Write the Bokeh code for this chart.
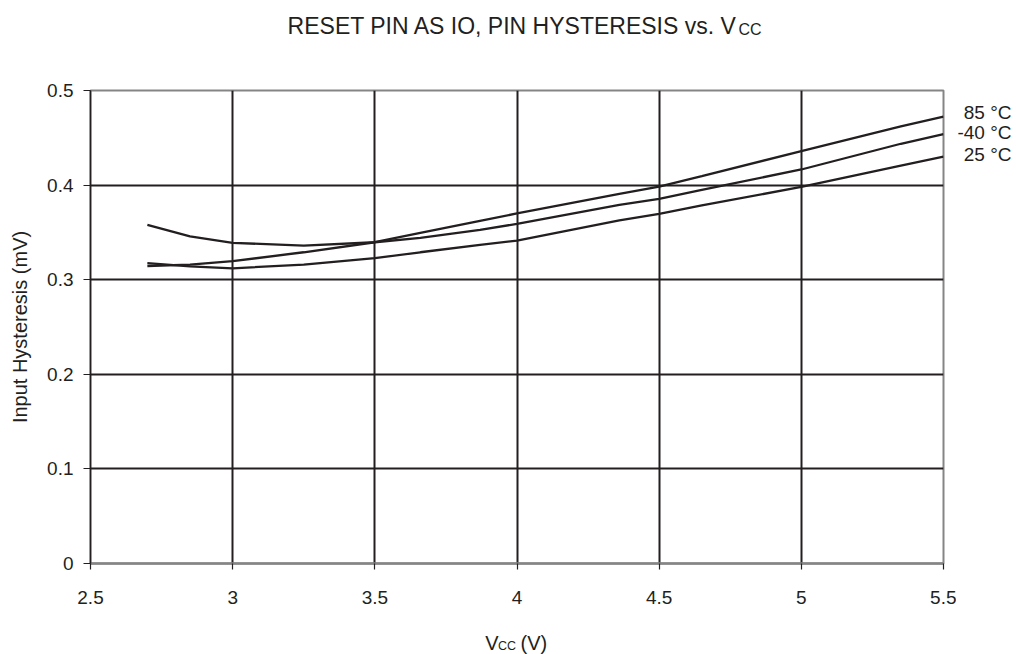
from bokeh.plotting import figure
from bokeh.models import Range1d, FixedTicker, Label, Grid
from bokeh.layouts import column, row
from bokeh.embed import file_html
from bokeh.resources import INLINE

# ---- data ----
vcc = [2.7, 2.85, 3.0, 3.25, 3.5, 3.66, 3.87, 4.0, 4.36, 4.5, 4.65, 5.0, 5.35, 5.5]
hyst_85 = [0.358, 0.3457, 0.339, 0.336, 0.3396, 0.3495, 0.3622, 0.370, 0.3908, 0.3985, 0.4095, 0.436, 0.462, 0.4725]
hyst_m40 = [0.3145, 0.316, 0.3196, 0.329, 0.3396, 0.3443, 0.3527, 0.359, 0.3792, 0.3855, 0.395, 0.4165, 0.4437, 0.454]
hyst_25 = [0.3175, 0.314, 0.312, 0.316, 0.3227, 0.329, 0.3369, 0.3414, 0.3626, 0.3697, 0.3785, 0.398, 0.4207, 0.430]

series_labels = ["85 °C", "-40 °C", "25 °C"]
x_ticks = [2.5, 3.0, 3.5, 4.0, 4.5, 5.0, 5.5]
x_tick_labels = ["2.5", "3", "3.5", "4", "4.5", "5", "5.5"]
y_ticks = [0.0, 0.1, 0.2, 0.3, 0.4, 0.5]
y_tick_labels = ["0", "0.1", "0.2", "0.3", "0.4", "0.5"]
x_grid_ticks = [3.0, 3.5, 4.0, 4.5, 5.0]
y_grid_ticks = [0.1, 0.2, 0.3, 0.4]

FONT = "Liberation Sans"
DARK = "#231f20"
GRAY = "#858585"

W = 1015
TOP_H = 76
MAIN_H = 536          # page y 76 -> 612
BOT_H = 42            # page y 612 -> 654
MAIN_W = 956
RIGHT_W = W - MAIN_W
BORDER_TOP = 14       # frame top at page y 90
BORDER_BOTTOM = 49    # frame bottom at page y 563


def text_panel(w, h, top=0, bottom=0):
    f = figure(width=w, height=h, output_backend="svg", toolbar_location=None,
               title=None, x_range=Range1d(0, 1), y_range=Range1d(0, 1),
               x_axis_location=None, y_axis_location=None, min_border=0,
               min_border_top=top, min_border_bottom=bottom)
    f.outline_line_color = None
    f.grid.visible = False
    f.background_fill_color = "white"
    f.border_fill_color = "white"
    return f


def lab(f, x, y, text, size, align="left", baseline="alphabetic"):
    f.add_layout(Label(x=x, y=y, x_units="screen", y_units="screen", text=text,
                       text_font=FONT, text_font_size=size, text_color=DARK,
                       text_align=align, text_baseline=baseline))


# ---- main plot ----
p = figure(width=MAIN_W, height=MAIN_H, output_backend="svg", toolbar_location=None,
           title=None, x_range=Range1d(2.5, 5.5), y_range=Range1d(0, 0.5),
           min_border_left=90, min_border_right=13, min_border_top=BORDER_TOP,
           min_border_bottom=BORDER_BOTTOM)

p.background_fill_color = "white"
p.border_fill_color = "white"
p.outline_line_color = GRAY
p.outline_line_width = 2

p.grid.visible = False
p.add_layout(Grid(dimension=0, ticker=FixedTicker(ticks=x_grid_ticks),
                  grid_line_color=DARK, grid_line_width=2))
p.add_layout(Grid(dimension=1, ticker=FixedTicker(ticks=y_grid_ticks),
                  grid_line_color=DARK, grid_line_width=2))

p.xaxis.ticker = FixedTicker(ticks=x_ticks)
p.xaxis.major_label_overrides = {t: l for t, l in zip(x_ticks, x_tick_labels)}
p.yaxis.ticker = FixedTicker(ticks=y_ticks)
p.yaxis.major_label_overrides = {t: l for t, l in zip(y_ticks, y_tick_labels)}
for ax in (p.xaxis[0], p.yaxis[0]):
    ax.major_label_text_font = FONT
    ax.major_label_text_font_size = "19px"
    ax.major_label_text_color = DARK
    ax.major_tick_in = 0
    ax.minor_tick_line_color = None
    ax.major_tick_line_color = DARK
    ax.major_tick_line_width = 1.2
p.xaxis.major_tick_out = 6
p.yaxis.major_tick_out = 7
p.xaxis.major_label_standoff = 21
p.yaxis.major_label_standoff = 10
p.xaxis.axis_line_color = GRAY
p.xaxis.axis_line_width = 2.5
p.yaxis.axis_line_color = DARK
p.yaxis.axis_line_width = 1.5

p.yaxis.axis_label = "Input Hysteresis (mV)"
p.yaxis.axis_label_text_font = FONT
p.yaxis.axis_label_text_font_size = "20px"
p.yaxis.axis_label_text_font_style = "normal"
p.yaxis.axis_label_text_color = DARK
p.yaxis.axis_label_standoff = 13

for ys in (hyst_85, hyst_m40, hyst_25):
    p.line(vcc, ys, line_color=DARK, line_width=2.3)

# ---- title panel ----
top = text_panel(W, TOP_H)
lab(top, 737, TOP_H - 25.7, "RESET PIN AS IO, PIN HYSTERESIS vs. V", "23px", align="right")
lab(top, 738, TOP_H - 28.7, "CC", "16px")

# ---- right labels panel (frame aligned with the main frame: page y 90..563) ----
right = text_panel(RIGHT_W, MAIN_H, top=BORDER_TOP, bottom=BORDER_BOTTOM)
for t, ypg in zip(series_labels, [111.7, 132.0, 153.5]):
    lab(right, 55, 563 - ypg, t, "19px", align="right", baseline="middle")

# ---- x-axis title panel ----
bot = text_panel(W, BOT_H)
lab(bot, 498, 654 - 642.5, "V", "20px", align="right")
lab(bot, 497.5, 654 - 645, "CC", "12.5px")
lab(bot, 520, 654 - 642.5, "(V)", "20px")

layout = column(top, row(p, right, spacing=0), bot, spacing=0)
open("out.html", "w").write(file_html(layout, INLINE))
